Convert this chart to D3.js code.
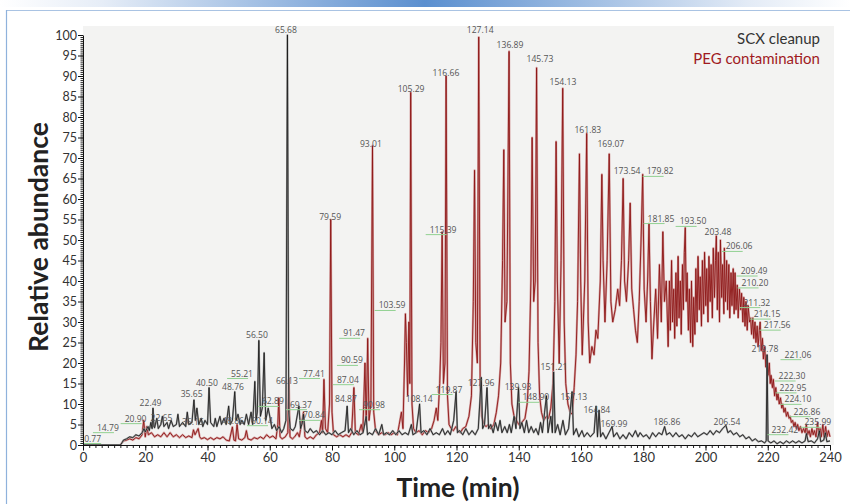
<!DOCTYPE html>
<html><head><meta charset="utf-8">
<script src="https://cdn.jsdelivr.net/npm/d3@7/dist/d3.min.js"></script>
<style>body{margin:0;background:#fff}svg{display:block}</style>
</head><body>
<svg id="c" width="850" height="504"></svg>
<script>
// ---------- DATA ----------
const xTicks = [0,20,40,60,80,100,120,140,160,180,200,220,240];
const yTicks = [0,5,10,15,20,25,30,35,40,45,50,55,60,65,70,75,80,85,90,95,100];
const seriesNames = ["SCX cleanup", "PEG contamination"];

// SCX cleanup trace: [time (min), relative abundance]
const scxPoints = [
[0,0],[12,0],[12.5,0.5],[13,1.2],[14,1.5],[15,2.0],[16,1.8],[17,2.5],[18,2.2],[19,3.0],[19.6,4.0],[20,3.2],
[20.9,4.5],[21.3,3.5],[21.8,5.5],[22.2,4.0],[22.49,9.0],[22.8,4.5],[23.0,4.2],[23.7,6.5],[24.2,4.0],[25,5.0],
[25.5,7.0],[26,4.5],[27,5.5],[27.5,4.0],[28.3,6.0],[29,4.5],[30,5.0],[30.5,7.5],[31,4.5],[32,5.5],[33,4.5],
[33.5,8.0],[34,5.0],[35,5.5],[35.65,11.0],[36.1,6.0],[36.6,9.0],[37.2,5.0],[38,6.5],[38.5,4.5],[39.2,6.0],
[40,5.0],[40.5,14.0],[41,5.5],[42,4.5],[42.5,6.5],[43,4.5],[44,7.0],[44.5,5.0],[45.3,6.5],[46,5.0],[46.8,9.5],
[47.3,5.0],[48,6.0],[48.76,13.0],[49.2,6.0],[49.8,7.5],[50.5,5.0],[51,6.0],[51.8,5.0],[52.5,7.5],[53.2,5.0],
[54,8.0],[54.5,5.0],[55.21,15.5],[55.6,6.0],[56.0,8.0],[56.5,25.5],[57,7.0],[57.6,9.0],[58.2,22.5],[58.7,6.0],
[59.5,9.0],[60.14,6.5],[60.7,4.0],[61.5,5.0],[62.2,3.5],[63,4.5],[63.8,3.0],[64.5,4.0],[65.2,6.0],[65.68,100],
[66.1,8.0],[66.6,4.0],[67.5,3.5],[68.2,4.5],[69.37,9.5],[69.9,4.0],[70.5,5.5],[70.84,7.5],[71.3,3.5],[72.2,3.0],
[73,4.0],[74,3.0],[75,3.5],[76,2.5],[77,3.5],[78,2.5],[79,3.0],[80,2.5],[81,3.5],[82,2.5],[83,3.0],[84.2,3.5],
[84.87,9.5],[85.3,3.0],[86,4.0],[87,2.5],[88,3.5],[89,2.5],[90,3.0],[90.98,7.0],[91.4,2.5],[92,3.0],[93,2.5],
[94,4.0],[95,2.5],[96,5.0],[96.6,2.5],[97.5,3.0],[98.5,2.5],[99.5,3.5],[100.5,2.5],[101.5,3.5],[102.5,2.5],
[103.5,3.0],[104.5,2.5],[105.5,5.0],[106,2.5],[107,3.0],[108.14,10.0],[108.6,3.0],[109.5,3.5],[110.5,2.5],
[111.5,4.0],[112.5,2.5],[113.5,3.0],[114.5,2.5],[115.5,4.0],[116.3,2.5],[117.2,3.5],[118,2.5],[119.1,6.0],
[119.87,13.0],[120.3,3.0],[121,3.5],[122,2.5],[123,4.0],[124,2.5],[125,3.5],[126,2.5],[127,4.0],[127.96,16.5],
[128.4,4.0],[129,5.0],[129.8,14.0],[130.3,4.0],[131,5.0],[131.8,3.0],[132.5,5.5],[133.3,3.5],[134,6.0],
[134.6,3.0],[135.5,4.5],[136.3,3.0],[137,5.0],[137.6,3.0],[138.5,7.0],[139.1,4.0],[139.93,14.0],[140.4,4.0],
[141,5.5],[141.8,3.0],[142.5,6.0],[143.2,3.0],[144,4.5],[144.8,3.0],[145.5,4.0],[146.3,2.5],[147,5.5],
[147.6,3.0],[148.3,8.0],[148.9,12.0],[149.4,3.0],[150.3,7.0],[150.8,3.0],[151.21,17.8],[151.7,3.0],[152.5,5.0],
[153.3,2.5],[154.2,6.0],[155,2.5],[156,4.0],[157.13,13.0],[157.6,2.5],[158.5,4.0],[159.3,2.0],[160.3,3.5],
[161,2.0],[162,3.0],[163,2.0],[164.2,3.0],[164.84,9.5],[165.3,2.0],[165.8,8.5],[166.3,2.0],[167,3.0],[168,1.5],
[169,3.0],[169.99,4.5],[170.5,2.0],[171.5,3.0],[172.5,1.5],[173.5,2.5],[174.5,1.5],[175.5,3.0],[176.5,2.0],
[177.5,3.5],[178.3,2.0],[179,3.0],[180,2.0],[181,2.5],[182,1.5],[183,3.0],[184,2.0],[185,3.0],[186,2.5],
[186.86,4.5],[187.5,2.5],[188.5,3.0],[189.5,2.0],[190.5,3.0],[191.5,2.0],[192.5,2.5],[193.5,1.5],[194.5,2.5],
[195.5,2.0],[196.5,3.0],[197.5,2.0],[198.5,2.5],[199.5,3.0],[200.5,2.5],[201.5,3.5],[202.5,2.5],[203.5,3.5],
[204.5,3.0],[205.5,4.0],[206.54,4.8],[207.2,3.0],[208,3.5],[209,2.5],[210,3.0],[211,2.0],[212,2.5],[213,1.5],
[214,2.0],[215,1.0],[216,1.5],[217,0.8],[218,1.0],[219,0.5],[219.5,1.0],[219.78,22.0],[220.1,1.0],[221,0.5],
[222,1.0],[223,0.3],[224,0.8],[225,0.3],[226,1.0],[227,0.5],[228,1.0],[229,0.5],[230,1.0],[231,0.5],[232,1.0],
[232.42,2.8],[233,0.8],[234,1.0],[235,0.5],[236,1.5],[236.6,3.5],[237,0.8],[238,1.2],[238.5,3.0],[239,0.8],[240,1.0]
];

// PEG contamination trace: [time (min), relative abundance]
const pegPoints = [
[0,0],[12,0],[12.5,0.5],[13,1.0],[14,1.2],[15,1.5],[16,1.2],[17,1.8],[18,1.5],[19,2.5],[19.5,6.0],[20,2.0],
[20.5,4.5],[21,2.5],[22,3.0],[23,2.0],[24,2.5],[25,2.0],[26,3.0],[27,2.0],[28,3.0],[29,2.0],[30,2.5],[31,1.8],
[32,2.5],[33,1.8],[34,2.2],[35,1.8],[35.5,3.7],[36,2.5],[37,4.0],[37.5,2.0],[38,1.5],[39,1.8],[40,1.3],[41,1.8],
[42,1.3],[43,1.8],[44,1.5],[45,2.0],[46,1.2],[47,1.0],[48,4.4],[48.5,1.2],[49,1.0],[49.5,5.0],[50,1.5],[51,1.2],
[52,1.8],[52.5,3.5],[53,1.5],[54,1.2],[55,1.8],[56,1.5],[57,2.0],[58,1.5],[59,2.5],[60,1.8],[61,2.2],[62,1.5],
[62.6,5.0],[62.9,11.5],[63.3,2.0],[64,1.5],[65,2.0],[65.8,3.0],[66.13,16.0],[66.5,2.0],[67.3,1.5],[68,2.0],
[68.9,3.0],[69.5,2.0],[70.84,8.0],[71.3,2.0],[72,1.5],[73,2.0],[74,1.5],[75,2.5],[76,3.0],[76.6,6.0],[77.0,3.0],
[77.41,16.0],[77.9,4.0],[78.6,3.0],[79.2,10.0],[79.59,55.0],[80.0,8.0],[80.5,2.5],[81.5,2.0],[82.5,2.5],
[83.5,2.0],[84.5,2.5],[85.5,2.0],[86.3,3.0],[87.04,14.0],[87.5,3.0],[88.5,2.5],[89.4,5.0],[89.9,3.0],
[90.59,20.0],[91.0,5.0],[91.47,26.0],[91.9,6.0],[92.5,10.0],[93.01,73.0],[93.4,8.0],[94,3.5],[95,2.5],[96,3.0],
[97,2.5],[98,3.0],[99,2.5],[100,3.0],[101,2.5],[101.6,5.0],[102.3,8.0],[102.8,4.0],[103.3,20.0],[103.59,32.0],
[103.9,25.0],[104.3,12.0],[104.7,30.0],[105.0,15.0],[105.29,86.0],[105.7,10.0],[106.2,4.0],[107,3.0],[108,3.5],
[109,2.5],[110,3.5],[111,3.0],[112,4.0],[112.8,6.0],[113.5,9.0],[114,6.0],[114.6,15.0],[115.0,25.0],
[115.39,52.0],[115.8,15.0],[116.3,20.0],[116.66,90.0],[117.1,12.0],[117.6,5.0],[118.3,4.0],[119,3.5],
[119.8,4.5],[120.5,3.5],[121.3,3.0],[122,4.0],[123,4.5],[124,7.0],[124.8,12.0],[125.4,35.0],[125.8,67.0],
[126.2,25.0],[126.7,20.0],[127.14,99.5],[127.6,15.0],[128.1,7.0],[128.8,5.0],[129.5,4.5],[130.2,5.0],[131,4.0],
[132,5.0],[132.8,8.0],[133.5,12.0],[134.2,20.0],[134.8,45.0],[135.2,72.0],[135.6,30.0],[136.2,35.0],
[136.89,96.0],[137.3,20.0],[137.8,10.0],[138.5,7.0],[139.3,6.0],[140,5.0],[141,5.5],[142,6.5],[142.7,10.0],
[143.3,18.0],[143.9,40.0],[144.3,75.0],[144.8,35.0],[145.3,40.0],[145.73,92.0],[146.2,25.0],[146.7,12.0],
[147.3,8.0],[148,6.0],[148.9,7.0],[149.6,6.5],[150.3,9.0],[151,15.0],[151.6,35.0],[152.0,74.0],[152.4,40.0],
[153.0,20.0],[153.6,45.0],[154.13,87.0],[154.6,30.0],[155.1,15.0],[155.8,10.0],[156.5,8.0],[157.2,7.5],
[157.8,14.0],[158.4,22.0],[158.9,35.0],[159.5,71.0],[159.9,40.0],[160.4,22.0],[161.2,40.0],[161.83,76.0],
[162.3,30.0],[162.8,20.0],[163.5,24.0],[164.2,22.0],[164.8,28.0],[165.4,26.0],[166.2,40.0],[166.7,66.0],
[167.1,45.0],[167.7,30.0],[168.4,45.0],[169.07,71.0],[169.6,35.0],[170.2,30.0],[171,33.0],[171.8,38.0],
[172.4,34.0],[173.0,45.0],[173.54,65.0],[174.0,40.0],[174.6,35.0],[175.3,45.0],[175.8,59.0],[176.3,38.0],
[176.9,33.0],[177.5,28.0],[178.1,25.0],[178.7,35.0],[179.3,50.0],[179.82,66.0],[180.3,38.0],[180.9,30.0],
[181.4,40.0],[181.85,54.0],[182.3,35.0],[182.8,21.0],[183.4,30.0],[184.0,38.0],[184.6,26.0],[185.2,44.0],
[185.8,30.0],[186.3,52.0],[186.8,35.0],[187.4,40.0],[188.0,24.0],[188.4,40.0],[188.7,28.0],[189.1,45.0],
[189.4,30.0],[189.8,38.0],[190.1,26.0],[190.5,42.0],[190.8,29.0],[191.2,46.0],[191.5,31.0],[191.9,40.0],
[192.2,27.0],[192.6,44.0],[192.9,33.0],[193.2,47.0],[193.5,53.0],[193.8,35.0],[194.1,42.0],[194.5,28.0],
[194.8,38.0],[195.2,25.0],[195.5,40.0],[195.9,24.0],[196.2,36.0],[196.6,27.0],[196.9,43.0],[197.3,30.0],
[197.6,46.0],[198.0,33.0],[198.3,41.0],[198.7,29.0],[199.0,45.0],[199.4,32.0],[199.7,47.0],[200.1,34.0],
[200.4,43.0],[200.8,30.0],[201.1,46.0],[201.5,35.0],[201.8,44.0],[202.2,31.0],[202.5,48.0],[202.9,36.0],
[203.2,45.0],[203.48,51.0],[203.8,33.0],[204.1,47.0],[204.5,30.0],[204.8,50.0],[205.2,36.0],[205.5,44.0],
[205.9,32.0],[206.06,48.0],[206.4,35.0],[206.8,45.0],[207.1,33.0],[207.5,44.0],[207.8,31.0],[208.2,42.0],
[208.5,34.0],[208.9,43.0],[209.2,32.0],[209.49,42.0],[209.8,33.0],[210.2,39.0],[210.5,31.0],[210.9,38.0],
[211.32,33.0],[211.6,37.0],[212.0,30.0],[212.3,36.0],[212.7,29.0],[213.0,35.0],[213.4,28.0],[213.7,34.0],
[214.15,30.0],[214.5,31.0],[214.8,27.0],[215.2,31.0],[215.5,26.0],[215.9,30.0],[216.2,25.0],[216.6,29.0],
[216.9,24.0],[217.3,28.0],[217.56,30.0],[217.9,23.0],[218.3,26.0],[218.6,21.0],[219.0,24.0],[219.4,19.0],
[219.78,22.0],[220.1,17.0],[220.5,20.0],[220.8,15.0],[221.06,17.0],[221.5,14.0],[221.8,16.0],[222.2,12.0],
[222.6,14.0],[222.95,11.0],[223.3,12.5],[223.7,10.0],[224.1,11.5],[224.5,9.0],[224.8,10.0],[225.2,8.0],
[225.6,9.0],[226.0,7.0],[226.4,8.0],[226.86,6.5],[227.2,7.0],[227.6,5.5],[228.0,6.0],[228.4,4.5],[228.8,5.5],
[229.2,4.0],[229.6,5.0],[230.0,3.5],[230.5,4.5],[231.0,3.0],[231.5,4.0],[232.0,3.0],[232.4,5.0],[232.8,2.5],
[233.3,3.5],[233.7,2.0],[234.2,4.0],[234.6,2.5],[235.0,3.5],[235.5,2.0],[235.99,5.5],[236.4,2.5],[236.8,4.0],
[237.2,2.0],[237.7,5.0],[238.1,2.0],[238.6,4.5],[239.0,2.0],[239.5,3.5],[240.0,2.0]
];

// Peak labels: [text, time at label centre, abundance at label baseline, has leader]
const annotations = [
["65.68",65.2,100.4,0],["127.14",127.6,100.4,0],["136.89",137.2,96.9,0],["145.73",146.8,93.5,0],
["154.13",154.2,87.7,0],["116.66",116.6,90.1,0],["105.29",105.4,86.0,0],["93.01",92.5,72.8,0],
["79.59",79.4,55.0,0],["161.83",162.2,76.2,0],["169.07",169.6,72.8,0],["173.54",174.8,66.0,0],
["179.82",185.4,66.0,1],["181.85",185.7,54.5,1],["193.50",196.0,53.8,1],["203.48",204.0,51.1,0],
["206.06",210.8,47.7,1],["209.49",215.6,41.7,1],["210.20",215.9,38.8,1],["211.32",216.5,34.0,1],
["214.15",219.8,31.2,1],["217.56",223.0,28.5,1],["219.78",219.1,22.6,0],["221.06",229.7,21.3,1],
["222.30",227.8,16.1,1],["222.95",228.1,13.2,1],["224.10",229.7,10.4,1],["226.86",232.6,7.4,1],
["232.42",225.5,3.0,1],["235.99",236.1,4.8,1],["206.54",206.9,4.8,0],["186.86",187.6,4.8,0],
["169.99",170.6,4.5,0],["164.84",165.1,7.7,0],["157.13",157.7,10.9,0],["151.21",151.3,18.2,0],
["148.90",145.5,10.9,1],["139.93",139.8,13.3,0],["127.96",127.9,14.5,0],["119.87",117.6,12.8,1],
["108.14",108.0,10.4,0],["103.59",99.3,33.3,1],["115.39",115.7,51.8,1],["91.47",87.1,26.5,1],
["90.59",86.4,19.9,1],["90.98",93.5,9.1,1],["87.04",85.1,15.2,1],["84.87",84.5,10.4,0],
["77.41",74.2,16.7,1],["70.84",74.2,6.5,1],["69.37",70.0,9.1,1],["66.13",65.5,14.8,0],
["62.89",61.0,9.9,1],["60.14",57.5,5.2,1],["56.50",55.9,26.2,0],["55.21",51.1,16.7,1],
["48.86",48.2,5.2,0],["48.76",48.2,13.3,0],["40.50",39.8,14.5,0],["35.65",34.9,11.8,0],
["36.15",35.3,5.0,0],["22.49",21.7,9.4,0],["22.65",25.2,5.9,0],["20.90",16.9,5.7,1],
["14.79",8.0,3.5,1],["0.77",3.1,0.85,1]
];

// ---------- DRAW ----------
const svg = d3.select("#c");
const defs = svg.append("defs");
const grad = defs.append("linearGradient").attr("id","topbar").attr("x1","0").attr("x2","1").attr("y1","0").attr("y2","0");
grad.append("stop").attr("offset","0").attr("stop-color","#ffffff");
grad.append("stop").attr("offset","0.12").attr("stop-color","#e6edf7");
grad.append("stop").attr("offset","0.5").attr("stop-color","#5b8fcf");
grad.append("stop").attr("offset","0.88").attr("stop-color","#e3ebf6");
grad.append("stop").attr("offset","1").attr("stop-color","#ffffff");
svg.append("rect").attr("x",0).attr("y",0).attr("width",850).attr("height",7).attr("fill","url(#topbar)");
// frame lines
svg.append("line").attr("x1",6).attr("x2",850).attr("y1",10.5).attr("y2",10.5).attr("stroke","#a9c3e3").attr("stroke-width",1);
svg.append("line").attr("x1",6.5).attr("x2",6.5).attr("y1",10).attr("y2",504).attr("stroke","#8fb2dc").attr("stroke-width",1.2);

const x = d3.scaleLinear().domain([0,240]).range([83,830]);
const y = d3.scaleLinear().domain([0,100]).range([445,35]);

// plot background
svg.append("rect").attr("x",83).attr("y",26).attr("width",751).attr("height",419).attr("fill","#f3f3f2");

const line = d3.line().x(d=>x(d[0])).y(d=>y(d[1]));
const g = svg.append("g");
// PEG trace
g.append("path").datum(pegPoints).attr("d",line).attr("fill","none").attr("stroke","#d6a2a2").attr("stroke-width",2.2).attr("stroke-linejoin","round");
g.append("path").datum(pegPoints).attr("d",line).attr("fill","none").attr("stroke","#8c1515").attr("stroke-width",0.9).attr("stroke-linejoin","round");
// SCX trace
g.append("path").datum(scxPoints).attr("d",line).attr("fill","none").attr("stroke","#9c9c9c").attr("stroke-width",1.8).attr("stroke-linejoin","round");
g.append("path").datum(scxPoints).attr("d",line).attr("fill","none").attr("stroke","#151515").attr("stroke-width",0.8).attr("stroke-linejoin","round");

// annotations
const ann = svg.append("g").attr("font-family","'Open Sans', 'Noto Sans', sans-serif").attr("font-size",8.6).attr("fill","#555");
annotations.forEach(a=>{
  const tx = x(a[1]), ty = y(a[2]);
  const t = ann.append("text").attr("x",tx).attr("y",ty).attr("text-anchor","middle").text(a[0]);
  if (a[3]) {
    const w = t.node().getComputedTextLength();
    ann.append("line").attr("x1",tx - w/2 - 4).attr("x2",tx - w/2 + 17).attr("y1",ty+2).attr("y2",ty+2)
      .attr("stroke","#92d192").attr("stroke-width",1);
  }
});

// axes
const axFont = "Lato, 'Open Sans', sans-serif";
const yMinor = svg.append("g").attr("transform","translate(83,0)")
  .call(d3.axisLeft(y).tickValues(d3.range(0,100.01,0.5)).tickSize(2.5).tickFormat(""));
yMinor.select(".domain").remove();
yMinor.selectAll("line").attr("stroke","#222");
const yAx = svg.append("g").attr("transform","translate(83,0)")
  .call(d3.axisLeft(y).tickValues(yTicks).tickSize(5).tickPadding(1).tickSizeOuter(0));
yAx.select(".domain").attr("stroke","#111");
yAx.selectAll("line").attr("stroke","#111");
yAx.selectAll("text").attr("font-family",axFont).attr("font-size",12.5).attr("fill","#333");

const xMinor = svg.append("g").attr("transform","translate(0,445)")
  .call(d3.axisBottom(x).tickValues(d3.range(0,240.01,2)).tickSize(3).tickFormat(""));
xMinor.select(".domain").remove();
xMinor.selectAll("line").attr("stroke","#222");
const xAx = svg.append("g").attr("transform","translate(0,445)")
  .call(d3.axisBottom(x).tickValues(xTicks).tickSize(5.5).tickPadding(2).tickSizeOuter(0));
xAx.select(".domain").attr("stroke","#111");
xAx.selectAll("line").attr("stroke","#111");
xAx.selectAll("text").attr("font-family",axFont).attr("font-size",13).attr("fill","#333");

// axis titles
svg.append("text").attr("transform","translate(48,237) rotate(-90)").attr("text-anchor","middle")
  .attr("font-family","Lato, 'Open Sans', sans-serif").attr("font-weight","bold").attr("font-size",26.5).attr("fill","#222")
  .text("Relative abundance");
svg.append("text").attr("x",458).attr("y",497).attr("text-anchor","middle")
  .attr("font-family","Lato, 'Open Sans', sans-serif").attr("font-weight","bold").attr("font-size",26.5).attr("fill","#222")
  .text("Time (min)");

// legend
const legColors = ["#333333","#a01a1f"];
seriesNames.forEach((n,i)=>{
  svg.append("text").attr("x",820).attr("y",44+i*19.5).attr("text-anchor","end")
    .attr("font-family","Lato, 'Open Sans', sans-serif").attr("font-size",15).attr("fill",legColors[i]).text(n);
});
</script>
</body></html>
